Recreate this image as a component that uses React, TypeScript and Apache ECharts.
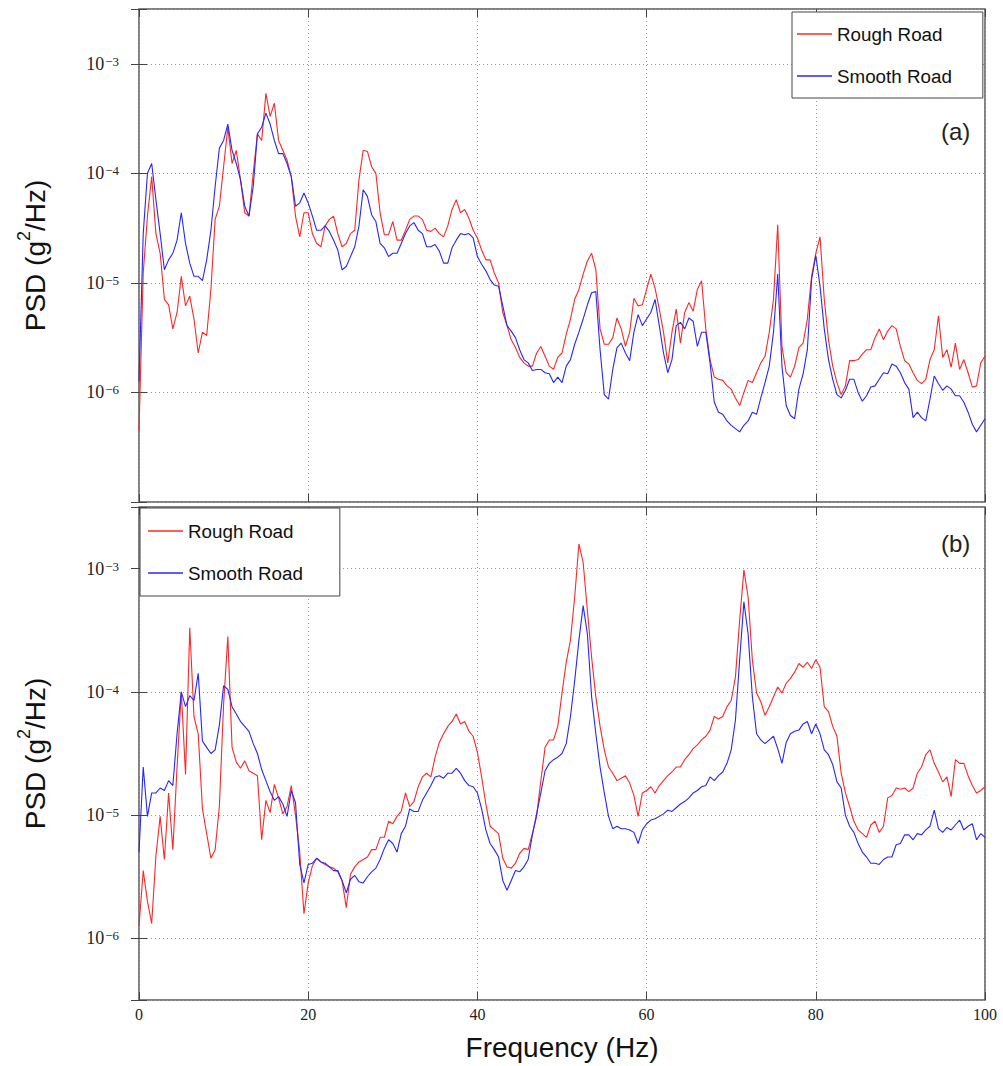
import React, { useEffect, useRef } from "react";
import * as echarts from "echarts";

// Frequency sampling of the traced curves (Hz)
const FREQ_STEP = 0.5;

// log10 of PSD (g^2/Hz), one value every 0.5 Hz from 0 to 100 Hz
// (each row = 5 Hz)
const roughRoadA = [
  -6.35, -4.91, -4.39, -4.03, -4.55, -4.73, -5.15, -5.2, -5.42, -5.27,
  -4.94, -5.21, -5.12, -5.33, -5.64, -5.45, -5.48, -5.06, -4.42, -4.3,
  -3.94, -3.58, -3.91, -3.79, -4.06, -4.36, -4.39, -4.0, -3.64, -3.7,
  -3.27, -3.48, -3.36, -3.7, -3.79, -3.88, -4.03, -4.39, -4.58, -4.36,
  -4.36, -4.55, -4.64, -4.67, -4.48, -4.42, -4.39, -4.55, -4.67, -4.64,
  -4.55, -4.52, -4.06, -3.79, -3.8, -3.94, -4.0, -4.36, -4.56, -4.56,
  -4.44, -4.61, -4.61, -4.52, -4.42, -4.39, -4.39, -4.42, -4.52, -4.53,
  -4.5, -4.55, -4.58, -4.48, -4.33, -4.24, -4.36, -4.33, -4.41, -4.52,
  -4.59, -4.7, -4.79, -4.79, -4.91, -5.0, -5.27, -5.39, -5.52, -5.59,
  -5.68, -5.73, -5.76, -5.76, -5.64, -5.58, -5.67, -5.76, -5.79, -5.68,
  -5.64, -5.47, -5.33, -5.15, -5.06, -4.92, -4.8, -4.73, -4.88, -5.42,
  -5.56, -5.56, -5.5, -5.32, -5.42, -5.58, -5.45, -5.14, -5.21, -5.2,
  -5.06, -4.92, -5.05, -5.24, -5.45, -5.73, -5.45, -5.24, -5.55, -5.27,
  -5.18, -5.26, -5.06, -4.98, -5.42, -5.7, -5.86, -5.88, -5.89, -5.94,
  -5.97, -6.05, -6.12, -6.0, -5.89, -5.91, -5.82, -5.73, -5.67, -5.45,
  -5.15, -4.47, -5.58, -5.82, -5.86, -5.76, -5.59, -5.55, -5.33, -4.94,
  -4.73, -4.58, -5.15, -5.52, -5.76, -5.91, -6.02, -5.94, -5.71, -5.71,
  -5.7, -5.65, -5.61, -5.61, -5.5, -5.42, -5.52, -5.44, -5.39, -5.42,
  -5.58, -5.71, -5.74, -5.82, -5.89, -5.92, -5.88, -5.7, -5.61, -5.3,
  -5.68, -5.61, -5.77, -5.55, -5.79, -5.7, -5.82, -5.95, -5.94, -5.73,
  -5.67,
];

const smoothRoadA = [
  -5.9, -4.55, -4.0, -3.91, -4.24, -4.55, -4.88, -4.79, -4.73, -4.61,
  -4.36, -4.64, -4.82, -4.94, -4.94, -4.98, -4.79, -4.52, -4.12, -3.77,
  -3.7, -3.55, -3.79, -3.91, -4.06, -4.3, -4.39, -4.12, -3.64, -3.58,
  -3.45, -3.55, -3.7, -3.82, -3.82, -3.91, -4.03, -4.3, -4.27, -4.18,
  -4.27, -4.39, -4.52, -4.52, -4.48, -4.53, -4.61, -4.7, -4.88, -4.85,
  -4.76, -4.67, -4.48, -4.15, -4.21, -4.38, -4.44, -4.64, -4.68, -4.76,
  -4.73, -4.73, -4.64, -4.55, -4.48, -4.45, -4.52, -4.55, -4.67, -4.67,
  -4.65, -4.71, -4.82, -4.82, -4.68, -4.61, -4.55, -4.56, -4.55, -4.59,
  -4.76, -4.83, -4.89, -4.97, -5.02, -5.03, -5.21, -5.39, -5.44, -5.5,
  -5.61, -5.7, -5.73, -5.8, -5.79, -5.79, -5.82, -5.83, -5.91, -5.86,
  -5.91, -5.76, -5.7, -5.56, -5.45, -5.33, -5.2, -5.09, -5.08, -5.61,
  -6.02, -6.06, -5.79, -5.59, -5.55, -5.64, -5.71, -5.45, -5.29, -5.39,
  -5.33, -5.27, -5.15, -5.39, -5.64, -5.82, -5.7, -5.39, -5.36, -5.42,
  -5.32, -5.35, -5.58, -5.45, -5.45, -5.73, -6.09, -6.18, -6.2, -6.26,
  -6.3, -6.33, -6.36, -6.3, -6.26, -6.18, -6.2, -6.05, -5.91, -5.76,
  -5.45, -4.92, -5.76, -6.12, -6.21, -6.24, -5.97, -5.83, -5.61, -4.97,
  -4.75, -5.03, -5.42, -5.7, -5.88, -6.02, -6.05, -5.98, -5.88, -5.88,
  -6.0, -6.08, -6.03, -5.95, -5.94, -5.88, -5.82, -5.83, -5.74, -5.76,
  -5.82, -5.91, -5.97, -6.23, -6.18, -6.23, -6.26, -6.06, -5.85, -5.92,
  -5.98, -5.94, -5.97, -6.03, -6.03, -6.09, -6.18, -6.29, -6.36, -6.3,
  -6.24,
];

const roughRoadB = [
  -5.9, -5.45, -5.7, -5.88, -5.33, -5.01, -5.36, -4.82, -5.28, -4.61,
  -4.0, -4.67, -3.48, -4.2, -4.34, -4.95, -5.15, -5.35, -5.28, -4.93,
  -4.1, -3.55, -4.45, -4.57, -4.62, -4.56, -4.64, -4.66, -4.68, -5.2,
  -4.88, -4.98, -4.75, -4.86, -4.99, -4.93, -4.76, -5.0, -5.3, -5.8,
  -5.55, -5.41, -5.35, -5.38, -5.4, -5.42, -5.43, -5.46, -5.53, -5.75,
  -5.48, -5.42, -5.38, -5.36, -5.34, -5.28, -5.28, -5.18, -5.18, -5.05,
  -5.07, -5.01, -4.97, -4.82, -4.93, -4.89, -4.77, -4.69, -4.66, -4.69,
  -4.53, -4.41, -4.34, -4.28, -4.24, -4.18, -4.26, -4.24, -4.32, -4.36,
  -4.49, -4.69, -4.91, -5.09, -5.12, -5.15, -5.35, -5.42, -5.43, -5.39,
  -5.31, -5.27, -5.28, -5.15, -5.01, -4.72, -4.45, -4.39, -4.39, -4.28,
  -4.01, -3.76, -3.58, -3.23, -2.8, -2.95, -3.34, -3.72, -4.04, -4.28,
  -4.47, -4.61, -4.66, -4.72, -4.7, -4.68, -4.74, -4.84, -5.01, -4.82,
  -4.8, -4.77, -4.82, -4.76, -4.72, -4.68, -4.65, -4.61, -4.61, -4.55,
  -4.51, -4.46, -4.43, -4.39, -4.36, -4.31, -4.2, -4.22, -4.2, -4.12,
  -4.07, -3.88, -3.42, -3.01, -3.23, -3.74, -4.01, -4.08, -4.19, -4.12,
  -4.04, -3.96, -4.01, -3.93, -3.89, -3.84, -3.77, -3.8, -3.76, -3.81,
  -3.74, -3.8, -4.12, -4.16, -4.28, -4.36, -4.66, -4.82, -4.93, -5.05,
  -5.12, -5.15, -5.18, -5.08, -5.05, -5.14, -5.09, -4.86, -4.84, -4.78,
  -4.79, -4.78, -4.81, -4.78, -4.66, -4.61, -4.51, -4.47, -4.58, -4.65,
  -4.73, -4.69, -4.85, -4.55, -4.58, -4.58, -4.68, -4.76, -4.82, -4.8,
  -4.77,
];

const smoothRoadB = [
  -5.3, -4.61, -5.01, -4.82, -4.82, -4.78, -4.8, -4.72, -4.76, -4.34,
  -4.0, -4.12, -4.03, -4.07, -3.85, -4.4, -4.45, -4.5, -4.47, -4.27,
  -3.95, -3.98, -4.12, -4.18, -4.24, -4.28, -4.32, -4.42, -4.5, -4.63,
  -4.72, -4.81, -4.88, -4.85, -4.91, -5.01, -4.8, -4.9, -5.4, -5.55,
  -5.4, -5.39, -5.35, -5.38, -5.39, -5.42, -5.45, -5.45, -5.53, -5.63,
  -5.52, -5.49, -5.54, -5.55, -5.5, -5.46, -5.43, -5.36, -5.27, -5.2,
  -5.23, -5.3, -5.15, -5.09, -4.95, -4.97, -4.97, -4.88, -4.82, -4.76,
  -4.69, -4.68, -4.7, -4.66, -4.66, -4.62, -4.66, -4.72, -4.76, -4.77,
  -4.82, -4.95, -5.12, -5.23, -5.28, -5.34, -5.53, -5.61, -5.53, -5.45,
  -5.46, -5.42, -5.36, -5.16, -4.99, -4.82, -4.64, -4.58, -4.55, -4.53,
  -4.5, -4.42, -4.2, -3.91, -3.58, -3.3, -3.53, -4.04, -4.34, -4.61,
  -4.82, -5.01, -5.11, -5.09, -5.11, -5.11, -5.12, -5.14, -5.23, -5.12,
  -5.07, -5.04, -5.03, -5.01, -4.99, -4.96, -4.97, -4.94, -4.91, -4.89,
  -4.86, -4.82, -4.8, -4.77, -4.76, -4.69, -4.72, -4.68, -4.65, -4.58,
  -4.47, -4.23, -3.74, -3.27, -3.53, -4.04, -4.34, -4.39, -4.42, -4.39,
  -4.36, -4.46, -4.58, -4.41, -4.34, -4.32, -4.31, -4.26, -4.24, -4.34,
  -4.26, -4.34, -4.47, -4.51, -4.59, -4.73, -4.78, -5.0, -5.09, -5.14,
  -5.23, -5.3, -5.34, -5.39, -5.39, -5.4, -5.36, -5.34, -5.34, -5.24,
  -5.23, -5.16, -5.16, -5.2, -5.15, -5.16, -5.12, -5.09, -4.96, -5.11,
  -5.14, -5.1, -5.12, -5.08, -5.04, -5.12, -5.09, -5.07, -5.2, -5.15,
  -5.18,
];

// Axis ranges (log10 of PSD) and labelled decades
const yRangeA = [-7, -2.5];
const yRangeB = [-6.5, -2.5];
const labelledDecades = [-3, -4, -5, -6];
const xRange = [0, 100];
const xTickStep = 20;

const seriesNames = ["Rough Road", "Smooth Road"];
const panelTags = ["(a)", "(b)"];

const RED = "#ff2626";
const BLUE = "#2626ff";
const SANS = "Liberation Sans, Arial, Helvetica, sans-serif";
const SERIF = "Liberation Serif, DejaVu Serif, serif";

const toPoints = (vals: number[]) => vals.map((v, i) => [i * FREQ_STEP, v]);

const decadeLabel = (v: number) =>
  labelledDecades.includes(v) ? `{b|10}{s|\u2212${-v}}` : "";

function buildOption() {
  const grids = [
    { left: 139, top: 9, width: 846, height: 493 },
    { left: 139, top: 507, width: 846, height: 493 },
  ].map((g) => ({
    ...g,
    show: true,
    borderColor: "#5a5a5a",
    borderWidth: 1.5,
    backgroundColor: "transparent",
  }));

  const tick = { show: true, inside: true, length: 8, lineStyle: { color: "#444", width: 1 } };
  const split = { show: true, lineStyle: { color: "#9a9a9a", type: [1, 3], width: 1 } };

  const xBase = (gridIndex: number) => ({
    type: "value",
    gridIndex,
    min: xRange[0],
    max: xRange[1],
    interval: xTickStep,
    axisLine: { show: false },
    axisTick: tick,
  });

  const xAxis = [
    { ...xBase(0), position: "bottom", splitLine: split, axisLabel: { show: false } },
    { ...xBase(0), position: "top", splitLine: { show: false }, axisLabel: { show: false } },
    {
      ...xBase(1),
      position: "bottom",
      splitLine: split,
      axisLabel: { show: true, fontFamily: SERIF, fontSize: 16, color: "#222", margin: 6 },
      name: "Frequency (Hz)",
      nameLocation: "middle",
      nameGap: 33,
      nameTextStyle: { fontFamily: SANS, fontSize: 28, color: "#111" },
    },
    { ...xBase(1), position: "top", splitLine: { show: false }, axisLabel: { show: false } },
  ];

  const yName = {
    name: "{n|PSD (g}{p|2}{n|/Hz)}",
    nameLocation: "middle",
    nameRotate: 90,
    nameGap: 90,
    nameTextStyle: {
      fontFamily: SANS,
      color: "#111",
      rich: {
        n: { fontFamily: SANS, fontSize: 28, lineHeight: 34, verticalAlign: "bottom", color: "#111" },
        p: { fontFamily: SANS, fontSize: 18, lineHeight: 22, verticalAlign: "top", color: "#111" },
      },
    },
  };

  const yLabel = {
    show: true,
    margin: 20,
    formatter: decadeLabel,
    fontFamily: SERIF,
    fontSize: 18,
    color: "#222",
    rich: {
      b: { fontFamily: SERIF, fontSize: 18, lineHeight: 18, verticalAlign: "bottom", color: "#222" },
      s: {
        fontFamily: SERIF,
        fontSize: 13,
        lineHeight: 11,
        verticalAlign: "top",
        color: "#222",
        padding: [0, 0, 0, 1],
      },
    },
  };

  const yBase = (gridIndex: number, range: number[]) => ({
    type: "value",
    gridIndex,
    min: range[0],
    max: range[1],
    minInterval: 1,
    maxInterval: 1,
    axisLine: { show: false },
    axisTick: tick,
  });

  const yAxis = [
    { ...yBase(0, yRangeA), position: "left", splitLine: split, axisLabel: yLabel, ...yName },
    { ...yBase(0, yRangeA), position: "right", splitLine: { show: false }, axisLabel: { show: false } },
    { ...yBase(1, yRangeB), position: "left", splitLine: split, axisLabel: yLabel, ...yName },
    { ...yBase(1, yRangeB), position: "right", splitLine: { show: false }, axisLabel: { show: false } },
  ];

  const line = (name: string, vals: number[], color: string, axisIdx: number) => ({
    type: "line",
    name,
    data: toPoints(vals),
    xAxisIndex: axisIdx,
    yAxisIndex: axisIdx,
    symbol: "none",
    showSymbol: false,
    lineStyle: { color, width: 1.1 },
    itemStyle: { color },
    emphasis: { disabled: true },
    clip: true,
  });

  const series = [
    line(seriesNames[0], roughRoadA, RED, 0),
    line(seriesNames[1], smoothRoadA, BLUE, 0),
    line(seriesNames[0], roughRoadB, RED, 2),
    line(seriesNames[1], smoothRoadB, BLUE, 2),
  ];

  const legendBase = {
    data: seriesNames.map((name) => ({ name, icon: "rect" })),
    orient: "vertical",
    itemWidth: 35,
    itemHeight: 1.3,
    itemGap: 22,
    backgroundColor: "#fff",
    borderColor: "#444",
    borderWidth: 1,
    borderRadius: 0,
    textStyle: { fontFamily: SANS, fontSize: 18.8, color: "#111", lineHeight: 20 },
    selectedMode: false,
  };

  const legend = [
    { ...legendBase, left: 792, top: 12, padding: [12, 31, 12, 5] },
    { ...legendBase, left: 140, top: 508, padding: [13, 37, 13, 8] },
  ];

  const title = [
    { text: panelTags[0], left: 941, top: 119 },
    { text: panelTags[1], left: 941, top: 531 },
  ].map((t) => ({
    ...t,
    padding: 0,
    textStyle: { fontFamily: SANS, fontSize: 24, fontWeight: "normal", color: "#222" },
  }));

  return {
    animation: false,
    backgroundColor: "#fff",
    textStyle: { fontFamily: SANS },
    title,
    legend,
    grid: grids,
    xAxis,
    yAxis,
    series,
  };
}

export default function App() {
  const ref = useRef<HTMLDivElement>(null);
  useEffect(() => {
    if (!ref.current) return;
    const chart = echarts.init(ref.current, null, { renderer: "svg" });
    chart.setOption(buildOption() as any);
    return () => chart.dispose();
  }, []);
  return (
    <div
      ref={ref}
      style={{ position: "fixed", left: 0, top: 0, width: 1003, height: 1066, background: "#fff" }}
    />
  );
}
